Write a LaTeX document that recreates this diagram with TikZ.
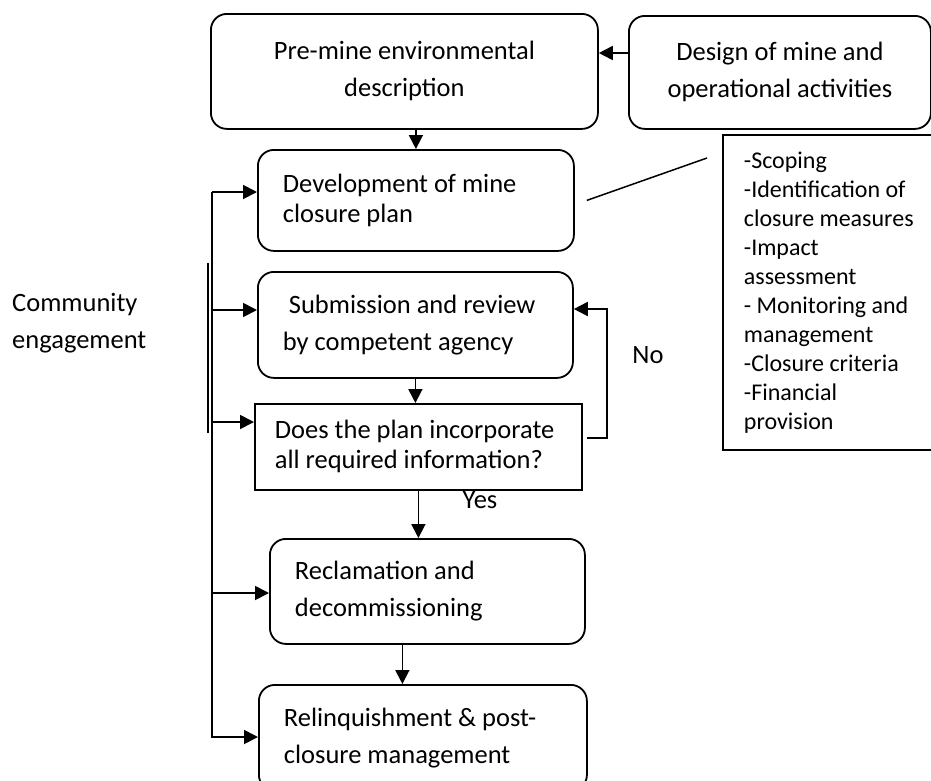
\documentclass[tikz,border=0pt]{standalone}
\usepackage{fontspec}
\setmainfont{Carlito}
\usetikzlibrary{arrows.meta}
\tikzset{
  stage/.style={draw, line width=1.8pt, rounded corners=16pt, anchor=north west, inner xsep=25pt, inner ysep=0pt, font=\fontsize{26.5}{37}\selectfont},
  query/.style={stage, sharp corners},
  link/.style={line width=1.8pt, -{Triangle[length=14pt,width=14pt]}},
}
\begin{document}
\begin{tikzpicture}[x=1pt, y=-1pt]
\useasboundingbox (0,0) rectangle (931,780);
\node[stage, minimum width=387pt, minimum height=115pt, align=center] (premine) at (210,13) {Pre-mine environmental\\description};
\node[stage, minimum width=302pt, minimum height=113pt, align=center] (design) at (628,15) {Design of mine and\\operational activities};
\node[stage, text width=266pt, minimum height=101pt, align=flush left, font=\fontsize{26.5}{30}\selectfont] (devplan) at (257,149) {Development of mine\\closure plan};
\node[stage, text width=265pt, minimum height=106pt, align=flush left] (review) at (257,271) {\ Submission and review\\by competent agency};
\node[query, inner xsep=20pt, text width=287pt, minimum height=86pt, align=flush left, font=\fontsize{26.5}{30}\selectfont] (check) at (254,403) {Does the plan incorporate\\all required information?};
\node[stage, text width=265pt, minimum height=105pt, align=flush left] (reclaim) at (269,538) {Reclamation and\\decommissioning};
\node[stage, text width=278pt, minimum height=106pt, align=flush left] (relinq) at (258,684) {Relinquishment \& post-\\closure management};
\node[query, inner xsep=21pt, text width=190pt, minimum height=315pt, align=flush left, font=\fontsize{24}{29}\selectfont] (tasks) at (722,134) {-Scoping\\-Identification of\\closure measures\\-Impact\\assessment\\- Monitoring and\\management\\-Closure criteria\\-Financial\\provision};
\node[anchor=west, inner xsep=0pt, align=flush left, font=\fontsize{26.5}{37}\selectfont] (community) at (12,323) {Community\\engagement};
\node[font=\fontsize{26.5}{30}\selectfont] (yes) at (480,500) {Yes};
\node[font=\fontsize{26.5}{30}\selectfont] (no) at (648,355) {No};
\draw[link] (design.west |- 0,53) -- (premine.east |- 0,53);
\draw[link] (premine.south -| devplan.north) -- (devplan.north);
\draw[link] (review.south) -- (review.south |- check.north);
\draw[link] (check.south) -- (check.south |- reclaim.north);
\draw[link] ([xshift=-25pt]reclaim.south) -- ([xshift=-25pt]reclaim.south |- relinq.north);
\draw[link] ([xshift=4pt]check.east |- 0,438) -| (607,309) -- (review.east |- 0,309);
\draw[line width=1.5pt] ([xshift=12pt]devplan.east) -- ([xshift=-15pt,yshift=-24pt]tasks.north west);
\coordinate (spinetop) at (212,192);
\coordinate (spinebot) at (212,738);
\draw[line width=1.8pt] (spinetop) -- (spinebot);
\draw[line width=1.5pt] (208,263) -- (208,433);
\foreach \n/\y in {devplan/192, review/310, check/422, reclaim/593, relinq/737}
  \draw[link] (spinetop |- 0,\y) -- (\n.west |- 0,\y);
\end{tikzpicture}
\end{document}
